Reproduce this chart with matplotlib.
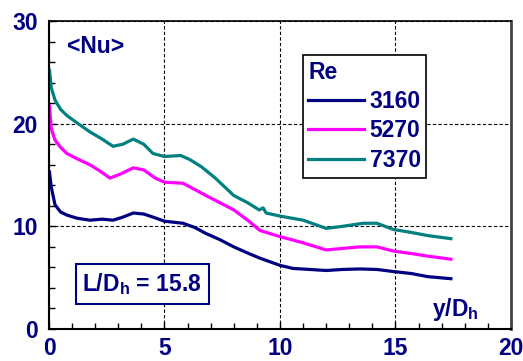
import numpy as np
import matplotlib.pyplot as plt

plt.rcParams['font.family'] = ['Liberation Sans', 'DejaVu Sans']
plt.rcParams['mathtext.fontset'] = 'custom'
plt.rcParams['mathtext.bf'] = 'Liberation Sans:bold'
plt.rcParams['mathtext.rm'] = 'Liberation Sans:bold'

navy = '#000080'

x_3160 = [0.02, 0.1, 0.26, 0.5, 0.77, 1.2, 1.77, 2.3, 2.77, 3.2, 3.65, 4.1, 4.5, 5.0, 5.8, 6.3, 6.8,
          7.4, 8.0, 8.6, 9.13, 10.0, 10.56, 11.3, 12.0, 12.7, 13.46, 14.2, 14.9, 15.7, 16.4, 17.4]
nu_3160 = [15.3, 13.8, 12.1, 11.4, 11.1, 10.8, 10.6, 10.7, 10.6, 10.9, 11.3, 11.2, 10.9, 10.5, 10.3, 9.9, 9.3,
           8.7, 8.0, 7.4, 6.9, 6.2, 5.9, 5.8, 5.7, 5.8, 5.85, 5.8, 5.6, 5.4, 5.1, 4.9]

x_5270 = [0.02, 0.1, 0.26, 0.5, 0.77, 1.2, 1.77, 2.2, 2.64, 3.1, 3.65, 4.1, 4.6, 5.0, 5.8, 6.3, 6.8,
          7.4, 8.0, 8.6, 9.13, 10.0, 11.0, 12.0, 12.7, 13.46, 14.2, 14.9, 15.7, 16.4, 17.4]
nu_5270 = [21.7, 19.5, 18.4, 17.7, 17.1, 16.6, 16.0, 15.4, 14.7, 15.1, 15.7, 15.5, 14.7, 14.3, 14.2, 13.6, 13.0,
           12.3, 11.6, 10.6, 9.6, 9.0, 8.4, 7.7, 7.85, 8.0, 8.0, 7.6, 7.35, 7.1, 6.8]

x_7370 = [0.02, 0.1, 0.26, 0.5, 0.77, 1.2, 1.77, 2.3, 2.77, 3.2, 3.65, 4.1, 4.5, 5.0, 5.7, 6.1, 6.6,
          7.2, 8.0, 8.6, 9.1, 9.27, 9.4, 10.0, 11.0, 12.0, 12.7, 13.6, 14.2, 14.9, 15.7, 16.4, 17.4]
nu_7370 = [25.2, 23.5, 22.3, 21.4, 20.8, 20.1, 19.2, 18.5, 17.8, 18.0, 18.5, 18.0, 17.1, 16.8, 16.9, 16.5, 15.8,
           14.7, 13.0, 12.3, 11.6, 11.8, 11.3, 11.0, 10.6, 9.8, 10.0, 10.3, 10.3, 9.7, 9.4, 9.1, 8.8]

labels = ['3160', '5270', '7370']
colors = [navy, '#ff00ff', '#008080']

fig = plt.figure(figsize=(5.23, 3.61), dpi=100)
ax = fig.add_axes([0.0937, 0.0886, 0.8833, 0.8532])

for xs, ys, lab, c in zip([x_3160, x_5270, x_7370], [nu_3160, nu_5270, nu_7370], labels, colors):
    ax.plot(xs, ys, color=c, lw=2.3, label=lab, solid_joinstyle='round')

ax.set_xlim(0, 20)
ax.set_ylim(0, 30)
ax.set_xticks([0, 5, 10, 15, 20])
ax.set_yticks([0, 10, 20, 30])
ax.set_xticks(np.arange(0, 21, 1), minor=True)
ax.set_yticks(np.arange(0, 31, 2), minor=True)
ax.grid(True, which='major', color='black', linestyle=(0, (3, 2)), lw=0.8)
ax.tick_params(which='both', direction='in', top=False, right=False, colors='black',
               labelcolor=navy, labelsize=16.5)
ax.tick_params(which='major', length=5, width=1)
ax.tick_params(which='minor', length=4, width=1)
ax.tick_params(axis='x', pad=6)
ax.tick_params(axis='y', pad=8)
for lbl in ax.get_xticklabels() + ax.get_yticklabels():
    lbl.set_fontweight('bold')

ax.spines['left'].set_linewidth(1.5)
ax.spines['bottom'].set_linewidth(1.5)
ax.spines['right'].set_linewidth(2)
ax.spines['right'].set_color('#444444')
ax.spines['top'].set_linestyle((0, (3, 1)))
ax.spines['top'].set_linewidth(1.2)

ax.text(0.8, 27.5, '<Nu>', color=navy, fontsize=16.5, fontweight='bold', va='center')
ax.text(17.6, 1.9, r'y/D$_\mathbf{h}$', color=navy, fontsize=16.5, fontweight='bold',
        va='center', ha='center')
ax.text(1.45, 4.4, r'L/D$_\mathbf{h}$ = 15.8', color=navy, fontsize=16.5, fontweight='bold',
        va='center', bbox=dict(boxstyle='square,pad=0.3', fc='white', ec=navy, lw=1.5))

leg = ax.legend(title='Re', loc='upper left', bbox_to_anchor=(0.549, 0.89), alignment='left',
                fontsize=16.5, title_fontsize=16.5, handlelength=2.45, handletextpad=0.22,
                labelspacing=0.28, borderpad=0.25, borderaxespad=0, fancybox=False,
                edgecolor='black', framealpha=1, shadow=False)
leg.get_frame().set_linewidth(1.2)
leg.get_title().set_color(navy)
leg.get_title().set_fontweight('bold')
for t in leg.get_texts():
    t.set_color(navy)
    t.set_fontweight('bold')

fig.savefig('out.png', dpi=100)
